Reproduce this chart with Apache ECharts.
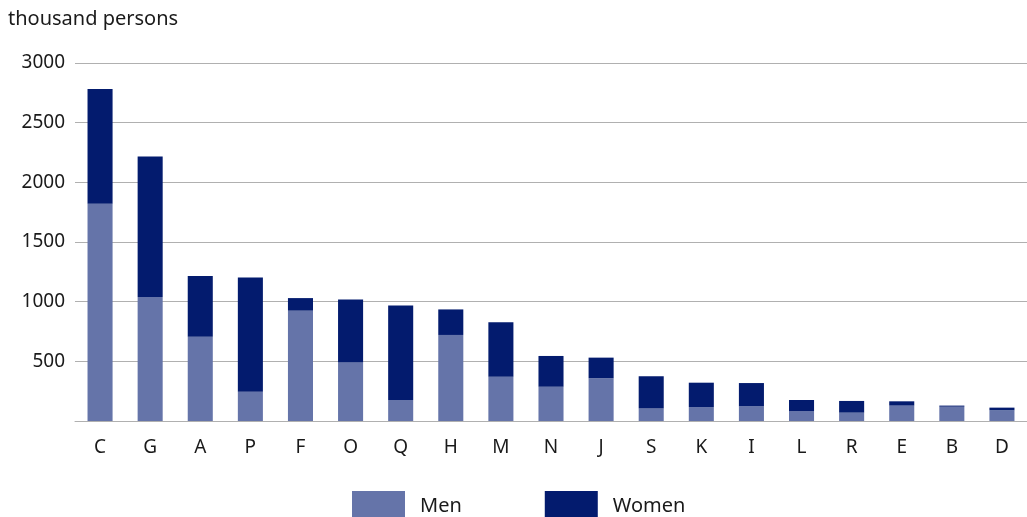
<!DOCTYPE html>
<html><head><meta charset="utf-8">
<script src="https://cdn.jsdelivr.net/npm/echarts@6/dist/echarts.min.js"></script>
<style>html,body{margin:0;padding:0;background:#fff}#c{width:1027px;height:517px}</style>
</head><body><div id="c"></div>
<script>
const categories = ['C','G','A','P','F','O','Q','H','M','N','J','S','K','I','L','R','E','B','D'];
const men   = [1820,1040,705,245,925,490,176,721,371,287,357,105,117,123,84,70,129,120,90];
const women = [962,1177,510,958,105,529,792,214,456,258,174,270,204,195,92,98,36,9,22];
const yTicks = {min:0, max:3000, interval:500};
const font = 'Noto Sans';
const chart = echarts.init(document.getElementById('c'));
chart.setOption({
  animation:false,
  textStyle:{fontFamily:font},
  graphic:[{type:'text',left:8,top:9,style:{text:'thousand persons',font:'20px "Noto Sans"',fill:'#1a1a1a'}}],
  grid:{left:75,top:63,width:963,height:358,containLabel:false},
  legend:{left:347,top:486,itemWidth:53,itemHeight:30,itemGap:83,icon:'rect',
    textStyle:{fontSize:20,color:'#1a1a1a',padding:[0,0,0,10]},data:['Men','Women']},
  xAxis:{type:'category',data:categories,axisTick:{show:false},
    axisLine:{lineStyle:{color:'#b0b0b0',width:1}},
    axisLabel:{fontSize:19,color:'#1a1a1a',margin:17}},
  yAxis:{type:'value',min:yTicks.min,max:yTicks.max,interval:yTicks.interval,
    axisLabel:{fontSize:19,color:'#1a1a1a',margin:10,showMinLabel:false,formatter:v=>v===0?'':String(v)},
    splitLine:{lineStyle:{color:'#b0b0b0',width:1}},axisLine:{show:false},axisTick:{show:false}},
  series:[
    {name:'Men',type:'bar',stack:'t',data:men,barWidth:'50%',itemStyle:{color:'#6574a9'}},
    {name:'Women',type:'bar',stack:'t',data:women,barWidth:'50%',itemStyle:{color:'#031b6e'}}
  ]
});
</script></body></html>
